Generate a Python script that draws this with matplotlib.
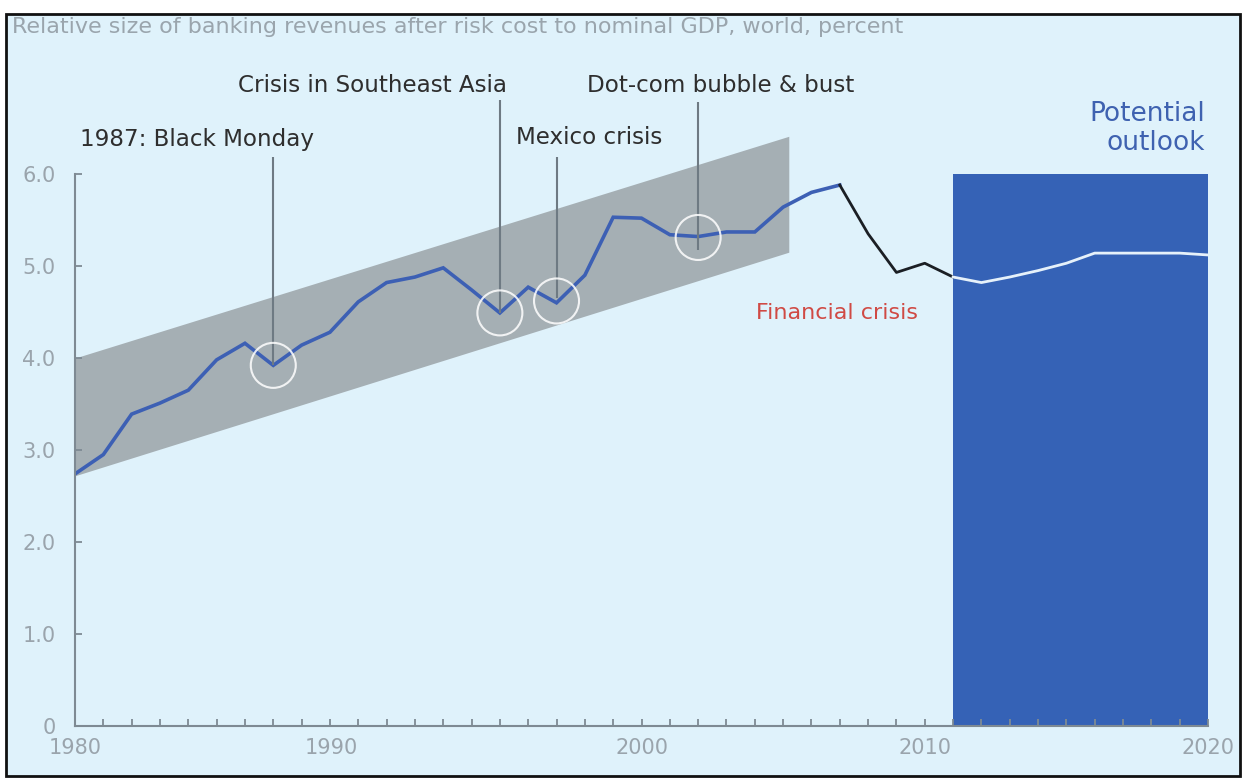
import matplotlib.pyplot as plt
import matplotlib.transforms as mtransforms
import numpy as np
from matplotlib.patches import Rectangle

plt.rcParams['font.family'] = ['DejaVu Sans']

# data
years_hist = list(range(1980, 2008))
vals_hist = [2.74, 2.95, 3.39, 3.51, 3.65, 3.98, 4.16, 3.92, 4.14, 4.28,
             4.61, 4.82, 4.88, 4.98, 4.74, 4.49, 4.77, 4.60, 4.90, 5.53,
             5.52, 5.34, 5.32, 5.37, 5.37, 5.64, 5.80, 5.88]
years_crisis = [2007, 2008, 2009, 2010, 2011]
vals_crisis = [5.88, 5.35, 4.93, 5.03, 4.88]
years_outlook = list(range(2011, 2021))
vals_outlook = [4.88, 4.82, 4.88, 4.95, 5.03, 5.14, 5.14, 5.14, 5.14, 5.12]

band_x = [1980, 2005.2]
band_low = [2.72, 5.15]
band_high = [4.0, 6.41]

outlook_x = [2011, 2020]
outlook_top = 6.0

events = ['1987: Black Monday', 'Crisis in Southeast Asia', 'Mexico crisis', 'Dot-com bubble & bust']
event_year = [1987, 1995, 1997, 2002]
event_val = [3.92, 4.49, 4.62, 5.31]
line_top = [6.18, 6.80, 6.18, 6.78]
line_bottom = [3.92, 4.49, 4.65, 5.17]
label_x = [1980.18, 1995.25, 1995.57, 1998.08]
label_y = [6.37, 6.96, 6.40, 6.96]
label_ha = ['left', 'right', 'left', 'left']

bg = '#DFF2FB'
fig = plt.figure(figsize=(12.44, 7.78), dpi=100)
fig.patch.set_facecolor('white')
fig.patches.append(Rectangle((0.005, 0.003), 0.992, 0.979, transform=fig.transFigure,
                             facecolor=bg, edgecolor='#111111', linewidth=2, zorder=-10))

ax = fig.add_axes([75/1244, 52/778, 1133/1244, 690/778])
ax.set_zorder(1)
ax.set_facecolor('none')
ax.set_xlim(1980, 2020)
ax.set_ylim(0, 7.5)

# grey band
ax.fill_between(band_x, band_low, band_high, color='#A5AFB4', linewidth=0, zorder=1)
# outlook box
ax.fill_between(outlook_x, 0, outlook_top, color='#3562B6', linewidth=0, zorder=1)

ax.plot(years_hist, vals_hist, color='#3D60B4', linewidth=2.6, zorder=3, solid_joinstyle='miter')
ax.plot(years_crisis, vals_crisis, color='#1B1F24', linewidth=2, zorder=3)
ax.plot(years_outlook, vals_outlook, color='#E6F1FA', linewidth=2, zorder=3)

ax.vlines(event_year, line_bottom, line_top, color='#6E7A83', linewidth=1.5, zorder=4)
ax.scatter(event_year, event_val, s=1050, facecolors='none', edgecolors='white',
           linewidths=1.5, alpha=0.85, zorder=5)
for t, x, y, ha in zip(events, label_x, label_y, label_ha):
    ax.text(x, y, t, ha=ha, va='center', fontsize=16.6, color='#2E2E2E')

ax.text(2004.04, 4.49, 'Financial crisis', ha='left', va='center', fontsize=16, color='#D04A44')
ax.text(2019.9, 6.49, 'Potential\noutlook', ha='right', va='center', fontsize=19,
        color='#3F62B0', multialignment='right', linespacing=1.15)

fig.text(12/1244, 1 - 27/778, 'Relative size of banking revenues after risk cost to nominal GDP, world, percent',
         ha='left', va='center', fontsize=16, color='#9AA5AD')

# axes styling
for s in ['top', 'right']:
    ax.spines[s].set_visible(False)
ax.spines['left'].set_bounds(0, 6)
ax.spines['left'].set_color('#7E8A93')
ax.spines['bottom'].set_color('#7E8A93')
ax.spines['left'].set_linewidth(1.5)
ax.spines['bottom'].set_linewidth(1.5)
ax.spines['left'].set_zorder(6)
ax.spines['bottom'].set_zorder(6)

ax.set_yticks([0, 1, 2, 3, 4, 5, 6])
ax.set_yticklabels(['0', '1.0', '2.0', '3.0', '4.0', '5.0', '6.0'])
ax.set_xticks([1980, 1990, 2000, 2010, 2020])
ax.set_xticks(np.arange(1981, 2020), minor=True)
ax.tick_params(axis='both', which='both', direction='in', length=5, width=1.3,
               color='#7E8A93', labelcolor='#9AA4AC', labelsize=15)
ax.tick_params(axis='y', pad=14)
ax.tick_params(axis='x', pad=9)

# the 1990 label sits a bit left of its tick in the original
lab = ax.xaxis.get_major_ticks()[1].label1
lab.set_transform(lab.get_transform() + mtransforms.ScaledTranslation(-0.27, 0, fig.dpi_scale_trans))

fig.savefig('out.png', dpi=100, facecolor='white')
